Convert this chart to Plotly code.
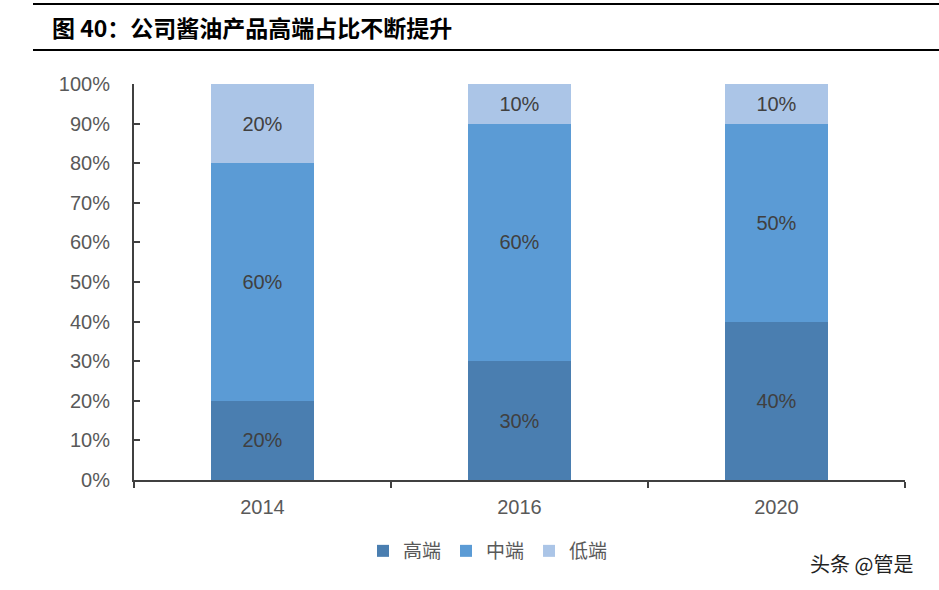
import plotly.graph_objects as go

years = ["2014", "2016", "2020"]
high = [20, 30, 40]
mid = [60, 60, 50]
low = [20, 10, 10]
series_names = ["高端", "中端", "低端"]
colors = ["#4a7eb0", "#5b9bd5", "#abc5e7"]
ytick_vals = [0, 10, 20, 30, 40, 50, 60, 70, 80, 90, 100]
ytick_text = [f"{v}%" for v in ytick_vals]

W, H = 939, 590
L, R, T, B = 134, 34, 84, 110
pw, ph = W - L - R, H - T - B

def px(x):
    return (x - L) / pw

def py(y):
    return (H - B - y) / ph

fig = go.Figure()
for name, vals, c in zip(series_names, [high, mid, low], colors):
    fig.add_trace(go.Bar(
        x=years, y=vals, name=name, marker=dict(color=c, line=dict(width=0)),
        text=[f"{v}%" for v in vals], textposition="inside", insidetextanchor="middle",
        textfont=dict(family="Liberation Sans, Arial", size=20, color="#404040"),
        hoverinfo="skip",
    ))

fig.update_layout(
    width=W, height=H, barmode="stack", bargap=0.6,
    margin=dict(l=L, r=R, t=T, b=B),
    plot_bgcolor="white", paper_bgcolor="white",
    font=dict(family="Liberation Sans, Arial", color="#595959"),
    showlegend=True,
    legend=dict(orientation="h", x=px(488), xanchor="center", y=py(551), yanchor="middle",
                font=dict(family="Noto Sans CJK SC", size=19, color="#595959"),
                itemwidth=30, traceorder="normal", itemclick=False),
    uniformtext=dict(mode="show", minsize=10),
)
fig.update_xaxes(
    type="category", showline=True, linecolor="#404040", linewidth=2,
    ticks="outside", tickson="boundaries", ticklen=6, tickcolor="#404040", tickwidth=2,
    tickfont=dict(size=20, color="#595959"), showgrid=False, ticklabelstandoff=8,
)
fig.update_yaxes(
    range=[0, 100], tickvals=ytick_vals, ticktext=ytick_text,
    showline=True, linecolor="#404040", linewidth=2,
    ticks="inside", ticklen=6, tickcolor="#404040", tickwidth=2,
    tickfont=dict(size=20, color="#595959"), showgrid=False, zeroline=False,
    ticklabelstandoff=18,
)

# title bar lines
for yl in [4, 50]:
    fig.add_shape(type="line", xref="paper", yref="paper",
                  x0=px(33), x1=px(939), y0=py(yl), y1=py(yl),
                  line=dict(color="black", width=2))
fig.add_annotation(xref="paper", yref="paper", x=px(50), y=py(27), xanchor="left", yanchor="middle",
                   text="<b>图 40：公司酱油产品高端占比不断提升</b>", showarrow=False,
                   font=dict(family="Noto Sans CJK SC", size=23, color="black"))
fig.add_annotation(xref="paper", yref="paper", x=px(915), y=py(563), xanchor="right", yanchor="middle",
                   text="头条 @管是", showarrow=False,
                   font=dict(family="Noto Sans CJK SC", size=20, color="#222222"))

fig.write_html("out.html")
